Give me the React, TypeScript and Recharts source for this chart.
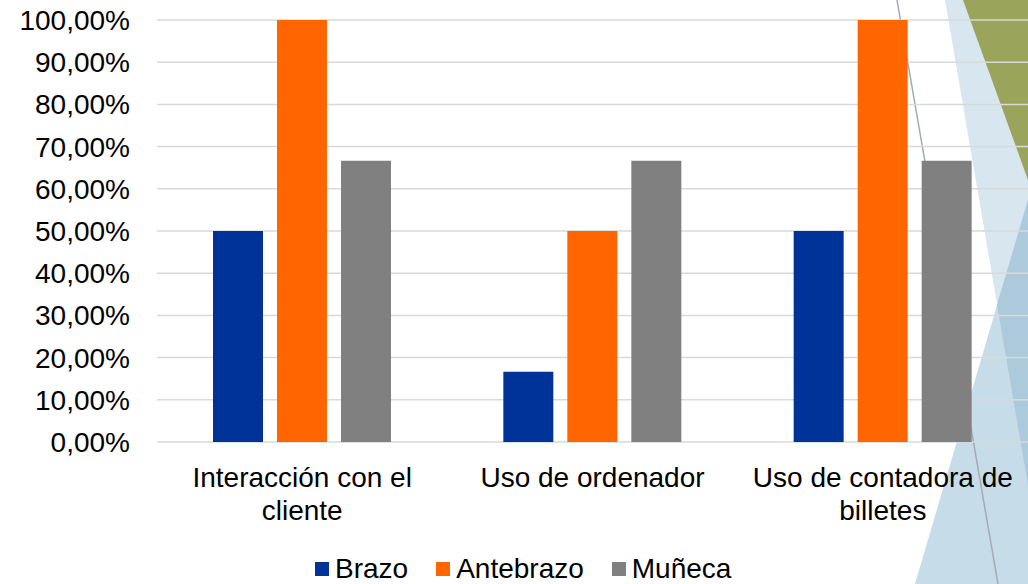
import React from "react";
import { BarChart, Bar, XAxis, YAxis, CartesianGrid, Legend } from "recharts";

const categories = ["Interacción con el cliente", "Uso de ordenador", "Uso de contadora de billetes"];
const brazo = [0.5, 0.1667, 0.5];
const antebrazo = [1, 0.5, 1];
const muneca = [0.6667, 0.6667, 0.6667];
const yTicks = [0, 0.1, 0.2, 0.3, 0.4, 0.5, 0.6, 0.7, 0.8, 0.9, 1];
const seriesNames = ["Brazo", "Antebrazo", "Muñeca"];
const seriesColors = ["#003399", "#ff6600", "#808080"];

const data = categories.map((c, i) => ({
  name: c,
  Brazo: brazo[i],
  Antebrazo: antebrazo[i],
  Muñeca: muneca[i],
}));

const FONT = "'Liberation Sans', Arial, sans-serif";
const FONT_SIZE = 28;

const fmt = (v: number) => (v * 100).toFixed(2).replace(".", ",") + "%";

let ctx: CanvasRenderingContext2D | null = null;
const measure = (s: string) => {
  if (!ctx && typeof document !== "undefined") {
    ctx = document.createElement("canvas").getContext("2d");
  }
  if (!ctx) return s.length * FONT_SIZE * 0.5;
  ctx.font = `${FONT_SIZE}px ${FONT}`;
  return ctx.measureText(s).width;
};

const wrap = (s: string, maxW: number) => {
  const words = s.split(" ");
  const lines: string[] = [];
  let cur = "";
  for (const w of words) {
    const next = cur ? cur + " " + w : w;
    if (cur && measure(next) > maxW) {
      lines.push(cur);
      cur = w;
    } else {
      cur = next;
    }
  }
  if (cur) lines.push(cur);
  return lines;
};

const XTick = (props: any) => {
  const { x, y, payload } = props;
  const lines = wrap(String(payload.value), 285);
  return (
    <text x={x} y={y} textAnchor="middle" fill="#000" style={{ fontSize: FONT_SIZE, fontFamily: FONT }}>
      {lines.map((l, i) => (
        <tspan key={i} x={x} dy={i === 0 ? "0.71em" : "1.2em"}>
          {l}
        </tspan>
      ))}
    </text>
  );
};

const LegendContent = () => (
  <div style={{ display: "flex", alignItems: "center", fontFamily: FONT, fontSize: FONT_SIZE, lineHeight: "37px", color: "#000", whiteSpace: "nowrap" }}>
    {seriesNames.map((n, i) => (
      <div key={n} style={{ display: "flex", alignItems: "center", marginRight: 28 }}>
        <div style={{ width: 14, height: 14, background: seriesColors[i], marginRight: 6 }} />
        <span>{n}</span>
      </div>
    ))}
  </div>
);

export default function App() {
  return (
    <div style={{ position: "fixed", left: 0, top: 0, width: 1028, height: 584, background: "#fff", overflow: "hidden" }}>
      <svg width={1028} height={584} style={{ position: "absolute", left: 0, top: 0 }}>
        <polygon points="945,0 1028,0 1028,485" fill="#d7e6ef" />
        <polygon points="1028,200 1028,584 915,584" fill="#c6dce8" />
        <polygon points="1028,200 997,305 1028,485" fill="#adcadd" />
        <polygon points="963,0 1028,0 1028,180" fill="#9aa55b" />
        <line x1={897} y1={0} x2={998} y2={584} stroke="#a3acb2" strokeWidth={1.5} />
      </svg>
      <div style={{ position: "absolute", left: 0, top: 0 }}>
        <BarChart
          width={1028}
          height={584}
          data={data}
          margin={{ top: 20, right: 0, left: 0, bottom: 25 }}
          barGap={14}
          barSize={50}
        >
          <CartesianGrid vertical={false} stroke="#d9d9d9" strokeWidth={1.5} />
          <XAxis
            dataKey="name"
            axisLine={false}
            tickLine={false}
            tickSize={0}
            tickMargin={25}
            height={80}
            interval={0}
            tick={<XTick />}
          />
          <YAxis
            width={157}
            domain={[0, 1]}
            ticks={yTicks}
            tickFormatter={fmt}
            axisLine={false}
            tickLine={false}
            tickSize={0}
            tickMargin={27}
            tick={{ fill: "#000", fontSize: FONT_SIZE, fontFamily: FONT }}
          />
          <Legend
            verticalAlign="bottom"
            content={<LegendContent />}
            wrapperStyle={{ left: 315, top: 550, width: "auto" }}
          />
          {seriesNames.map((n, i) => (
            <Bar key={n} dataKey={n} fill={seriesColors[i]} isAnimationActive={false} />
          ))}
        </BarChart>
      </div>
    </div>
  );
}
